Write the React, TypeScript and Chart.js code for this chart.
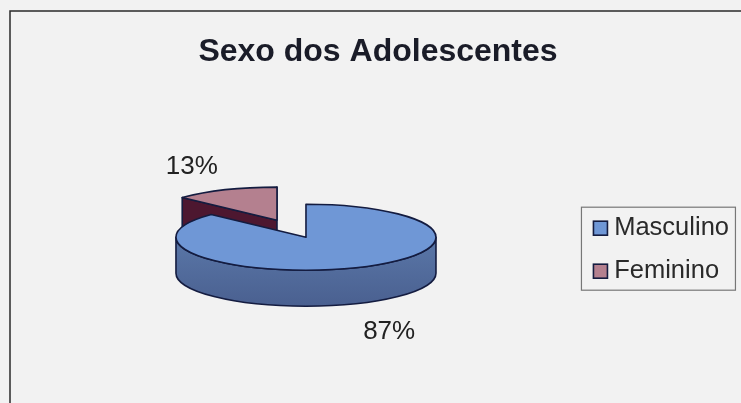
import React, { useEffect, useRef } from "react";
import { Chart, registerables } from "chart.js";

Chart.register(...registerables);

const categories = ["Masculino", "Feminino"];
const shares = [87, 13];
const chartTitle = "Sexo dos Adolescentes";

const topColors = ["#6f97d6", "#b4808f"];
const wallColors = ["#5a77a8", "#4d1730"];
const outline = "#141c40";

// Projection of the flat pie onto a tilted disc
const SQUASH = 0.254;
const DEPTH = 36;
const SHIFT_X = 9.5;
const LIFT = -12.5;
const LABEL_RADIUS = 212;

const tiltedPie = {
  id: "tiltedPie",
  beforeDatasetDraw(chart: any) {
    const ctx = chart.ctx as CanvasRenderingContext2D;
    const arcs = chart.getDatasetMeta(0).data as any[];

    const geometry = arcs.map((arc) => {
      const mid = (arc.startAngle + arc.endAngle) / 2;
      const explode = arc.options.offset / 4;
      return {
        cx: arc.x + SHIFT_X + Math.cos(mid) * explode,
        cy: arc.y + LIFT + Math.sin(mid) * explode * SQUASH,
        r: arc.outerRadius,
        start: arc.startAngle,
        end: arc.endAngle,
        mid,
      };
    });
    const point = (g: any, a: number) => [
      g.cx + Math.cos(a) * g.r,
      g.cy + Math.sin(a) * g.r * SQUASH,
    ];

    ctx.save();
    ctx.lineJoin = "round";
    ctx.lineWidth = 1.6;
    ctx.strokeStyle = outline;

    // Smaller slice sits behind the large one
    [1, 0].forEach((i) => {
      const g = geometry[i];
      const ry = g.r * SQUASH;
      const [sx, sy] = point(g, g.start);
      const [ex, ey] = point(g, g.end);

      // Cut faces, visible when the slice opens towards the back
      if (i === 1) {
        ctx.fillStyle = wallColors[i];
        ctx.beginPath();
        ctx.moveTo(sx, sy);
        ctx.lineTo(g.cx, g.cy);
        ctx.lineTo(ex, ey);
        ctx.lineTo(ex, ey + DEPTH);
        ctx.lineTo(g.cx, g.cy + DEPTH);
        ctx.lineTo(sx, sy + DEPTH);
        ctx.closePath();
        ctx.fill();
        ctx.stroke();
      }

      // Rim along the front half of the disc
      const from = Math.max(g.start, 0);
      const to = Math.min(g.end, Math.PI);
      if (to > from) {
        const grad = ctx.createLinearGradient(0, g.cy, 0, g.cy + ry + DEPTH);
        grad.addColorStop(0, wallColors[i]);
        grad.addColorStop(1, "#4a6090");
        ctx.fillStyle = grad;
        ctx.beginPath();
        ctx.ellipse(g.cx, g.cy, g.r, ry, 0, from, to);
        ctx.ellipse(g.cx, g.cy + DEPTH, g.r, ry, 0, to, from, true);
        ctx.closePath();
        ctx.fill();
        ctx.stroke();
      }

      // Top face
      ctx.fillStyle = topColors[i];
      ctx.beginPath();
      ctx.moveTo(g.cx, g.cy);
      ctx.ellipse(g.cx, g.cy, g.r, ry, 0, g.start, g.end);
      ctx.closePath();
      ctx.fill();
      ctx.stroke();
    });

    // Percentage labels outside the disc
    ctx.fillStyle = "#222";
    ctx.font = '26px "Liberation Sans", Arial, sans-serif';
    ctx.textAlign = "center";
    ctx.textBaseline = "middle";
    geometry.forEach((g, i) => {
      const x = g.cx + Math.cos(g.mid) * LABEL_RADIUS;
      const y = g.cy + Math.sin(g.mid) * LABEL_RADIUS * SQUASH;
      ctx.fillText(`${shares[i]}%`, x - 1, i === 0 ? y + DEPTH + 9 : y - 4);
    });
    ctx.restore();
    return false;
  },
  afterDraw(chart: any) {
    const ctx = chart.ctx as CanvasRenderingContext2D;
    const hits = chart.legend.legendHitBoxes as any[];
    ctx.save();
    // Outer frame of the chart object
    ctx.strokeStyle = "#2a2a2a";
    ctx.lineWidth = 1.5;
    ctx.beginPath();
    ctx.moveTo(10, chart.height + 5);
    ctx.lineTo(10, 11);
    ctx.lineTo(chart.width + 5, 11);
    ctx.stroke();
    // Legend box around the two rows
    const rowMid = (h: any) => h.top + h.height / 2;
    const boxLeft = hits[0].left - 12;
    const boxTop = rowMid(hits[0]) - 21;
    ctx.strokeStyle = "#777";
    ctx.lineWidth = 1.2;
    ctx.strokeRect(boxLeft, boxTop, 154, rowMid(hits[1]) - rowMid(hits[0]) + 40);
    // Larger outlined keys in front of each label
    hits.forEach((h, i) => {
      ctx.fillStyle = topColors[i];
      ctx.strokeStyle = outline;
      ctx.lineWidth = 1.6;
      ctx.fillRect(h.left, rowMid(h) - 7, 14, 14);
      ctx.strokeRect(h.left, rowMid(h) - 7, 14, 14);
    });
    ctx.restore();
  },
};

export default function App() {
  const ref = useRef<HTMLCanvasElement>(null);

  useEffect(() => {
    const chart = new Chart(ref.current!, {
      type: "pie",
      data: {
        labels: categories,
        datasets: [
          {
            data: shares,
            backgroundColor: topColors,
            borderColor: outline,
            borderWidth: 0,
            offset: [0, 292],
          },
        ],
      },
      options: {
        responsive: false,
        animation: false,
        radius: 130,
        layout: { padding: { left: 17, right: 17, top: 0, bottom: 0 } },
        plugins: {
          title: {
            display: true,
            text: chartTitle,
            color: "#1a1c28",
            font: { family: '"Liberation Sans", Arial, sans-serif', size: 32, weight: "bold" },
            padding: { top: 33, bottom: 25 },
          },
          legend: {
            position: "right",
            fullSize: false,
            labels: {
              boxWidth: 8,
              boxHeight: 8,
              padding: 17.5,
              color: "#2a2a2a",
              font: { family: '"Liberation Sans", Arial, sans-serif', size: 25.5 },
            },
          },
          tooltip: { enabled: false },
        },
      },
      plugins: [tiltedPie],
    } as any);
    return () => chart.destroy();
  }, []);

  return (
    <div style={{ position: "fixed", inset: 0, overflow: "hidden", background: "#f2f2f2" }}>
      <canvas ref={ref} width={756} height={403} style={{ display: "block", width: 756, height: 403, filter: "blur(0.6px)" }} />
    </div>
  );
}
